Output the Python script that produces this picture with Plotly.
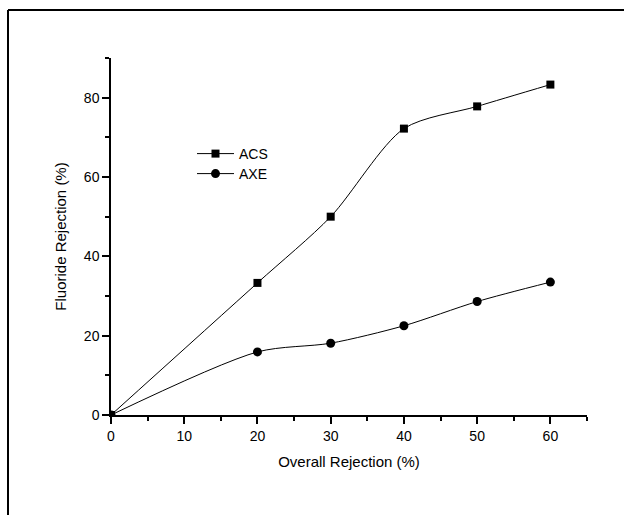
import plotly.graph_objects as go

x_vals = [0, 20, 30, 40, 50, 60]
acs = [0, 33.3, 50.0, 72.2, 77.8, 83.3]
axe = [0, 15.9, 18.1, 22.5, 28.6, 33.5]

W, H = 624, 515
L, R, T, B = 111, 37, 58, 100
pw, ph = W - L - R, H - T - B
FONT = "Arial, Liberation Sans, sans-serif"

fig = go.Figure()
fig.add_trace(go.Scatter(x=x_vals, y=acs, name="ACS", mode="lines+markers", legend="legend",
                         line=dict(color="black", width=1, shape="spline", smoothing=0.8),
                         marker=dict(symbol="square", size=8, color="black")))
fig.add_trace(go.Scatter(x=x_vals, y=axe, name="AXE", mode="lines+markers", legend="legend2",
                         line=dict(color="black", width=1, shape="spline", smoothing=0.8),
                         marker=dict(symbol="circle", size=9, color="black")))

def px_x(p):
    return (p - L) / pw

def px_y(p):
    return (H - B - p) / ph

fig.add_shape(type="line", xref="paper", yref="paper",
              x0=px_x(8), x1=px_x(640), y0=px_y(10), y1=px_y(10),
              line=dict(color="black", width=2))
fig.add_shape(type="line", xref="paper", yref="paper",
              x0=px_x(8), x1=px_x(8), y0=px_y(10), y1=px_y(530),
              line=dict(color="black", width=2))

axis_common = dict(showgrid=False, zeroline=False, showline=True, linecolor="black",
                   linewidth=1.5, ticks="outside", ticklen=7, tickwidth=1.5, tickcolor="black",
                   tickfont=dict(family=FONT, size=14, color="black"))

fig.update_xaxes(range=[0, 65], dtick=10, tick0=0,
                 minor=dict(dtick=5, ticks="outside", ticklen=4, tickwidth=1.5, tickcolor="black"),
                 title=dict(text="Overall Rejection (%)", font=dict(family=FONT, size=15, color="black"), standoff=14),
                 **axis_common)
fig.update_yaxes(range=[0, 90], dtick=20, tick0=0,
                 minor=dict(dtick=10, ticks="outside", ticklen=4, tickwidth=1.5, tickcolor="black"),
                 title=dict(text="Fluoride Rejection (%)", font=dict(family=FONT, size=15, color="black"), standoff=14),
                 **axis_common)

leg = dict(xanchor="left", yanchor="middle", bgcolor="rgba(0,0,0,0)",
           font=dict(family=FONT, size=14, color="black"), itemwidth=37)
fig.update_layout(
    width=W, height=H,
    margin=dict(l=L, r=R, t=T, b=B),
    paper_bgcolor="white", plot_bgcolor="white",
    showlegend=True,
    legend=dict(x=px_x(192), y=px_y(154), **leg),
    legend2=dict(x=px_x(192), y=px_y(174), **leg),
)

fig.write_html("out.html")
